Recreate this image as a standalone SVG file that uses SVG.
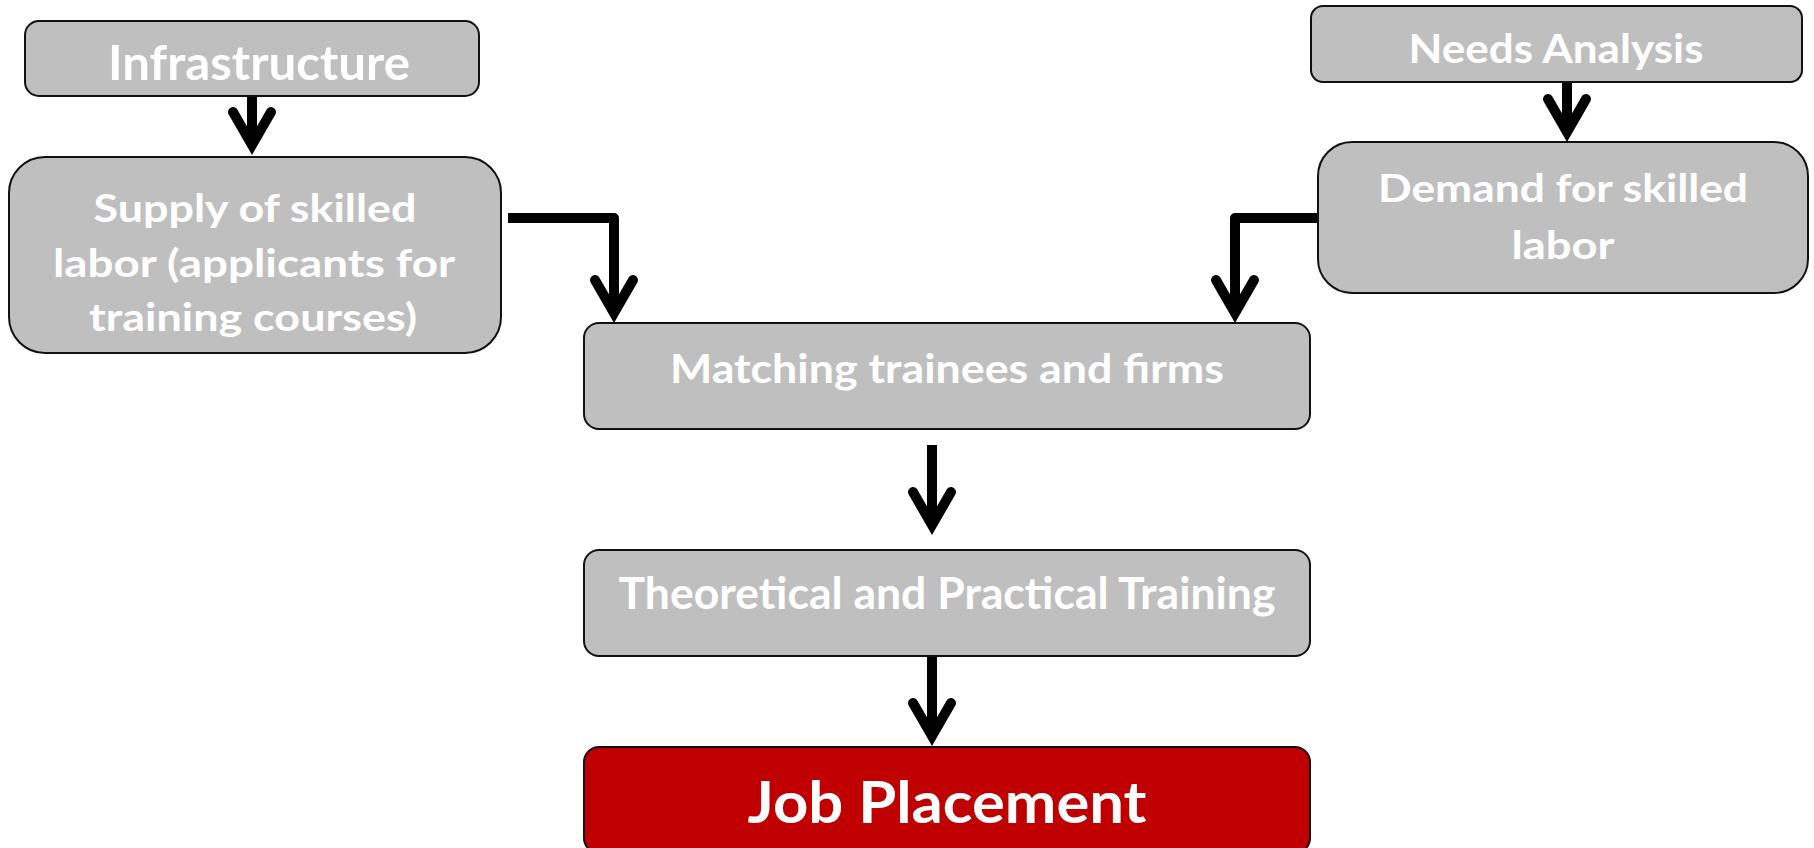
<svg xmlns="http://www.w3.org/2000/svg" width="1814" height="848" viewBox="0 0 1814 848">
<style>
.box{fill:#bfbfbf;stroke:#111;stroke-width:2}
.red{fill:#c00000;stroke:#111;stroke-width:2}
.t{font-family:Lato,"Open Sans","Liberation Sans",sans-serif;font-weight:bold;fill:#fff;text-anchor:middle}
.c{fill:none;stroke:#000;stroke-width:10;stroke-linejoin:round}
</style>
<defs>
<marker id="ah" markerUnits="userSpaceOnUse" orient="auto" refX="0" refY="0" markerWidth="80" markerHeight="80" viewBox="-50 -40 80 80" overflow="visible">
<path d="M-33,-19 L0,0 L-33,19" fill="none" stroke="#000" stroke-width="10" stroke-linejoin="miter" stroke-miterlimit="6" stroke-linecap="round"/>
</marker>
</defs>
<g id="connectors">
<path class="c" d="M252,96 V145" marker-end="url(#ah)"/>
<path class="c" d="M1567,82 V132" marker-end="url(#ah)"/>
<path class="c" d="M508,218 H614 V313" marker-end="url(#ah)"/>
<path class="c" d="M1318,218 H1235 V313" marker-end="url(#ah)"/>
<path class="c" d="M932,445 V525" marker-end="url(#ah)"/>
<path class="c" d="M932,656 V736" marker-end="url(#ah)"/>
</g>
<g id="infrastructure">
<rect class="box" x="25" y="21" width="454" height="75" rx="14"/>
<text class="t" x="259" y="80" font-size="47" textLength="302" lengthAdjust="spacingAndGlyphs">Infrastructure</text>
</g>
<g id="supply">
<rect class="box" x="9" y="157" width="492" height="196" rx="36"/>
<text class="t" x="255" y="222" font-size="39" textLength="323" lengthAdjust="spacingAndGlyphs">Supply of skilled</text>
<text class="t" x="254" y="277" font-size="39" textLength="402" lengthAdjust="spacingAndGlyphs">labor (applicants for</text>
<text class="t" x="253" y="331" font-size="39" textLength="328" lengthAdjust="spacingAndGlyphs">training courses)</text>
</g>
<g id="needs">
<rect class="box" x="1311" y="6" width="491" height="76" rx="12"/>
<text class="t" x="1556" y="63" font-size="40" textLength="295" lengthAdjust="spacingAndGlyphs">Needs Analysis</text>
</g>
<g id="demand">
<rect class="box" x="1318" y="142" width="490" height="151" rx="34"/>
<text class="t" x="1563" y="202" font-size="39" textLength="370" lengthAdjust="spacingAndGlyphs">Demand for skilled</text>
<text class="t" x="1563" y="259" font-size="39" textLength="103" lengthAdjust="spacingAndGlyphs">labor</text>
</g>
<g id="matching">
<rect class="box" x="584" y="323" width="726" height="106" rx="15"/>
<text class="t" x="947" y="383" font-size="41" textLength="554" lengthAdjust="spacingAndGlyphs">Matching trainees and firms</text>
</g>
<g id="training">
<rect class="box" x="584" y="550" width="726" height="106" rx="15"/>
<text class="t" x="947" y="609" font-size="43" textLength="657" lengthAdjust="spacingAndGlyphs">Theoretical and Practical Training</text>
</g>
<g id="job">
<rect class="red" x="584" y="747" width="726" height="106" rx="15"/>
<text class="t" x="947" y="823" font-size="58" textLength="399" lengthAdjust="spacingAndGlyphs">Job Placement</text>
</g>
</svg>
